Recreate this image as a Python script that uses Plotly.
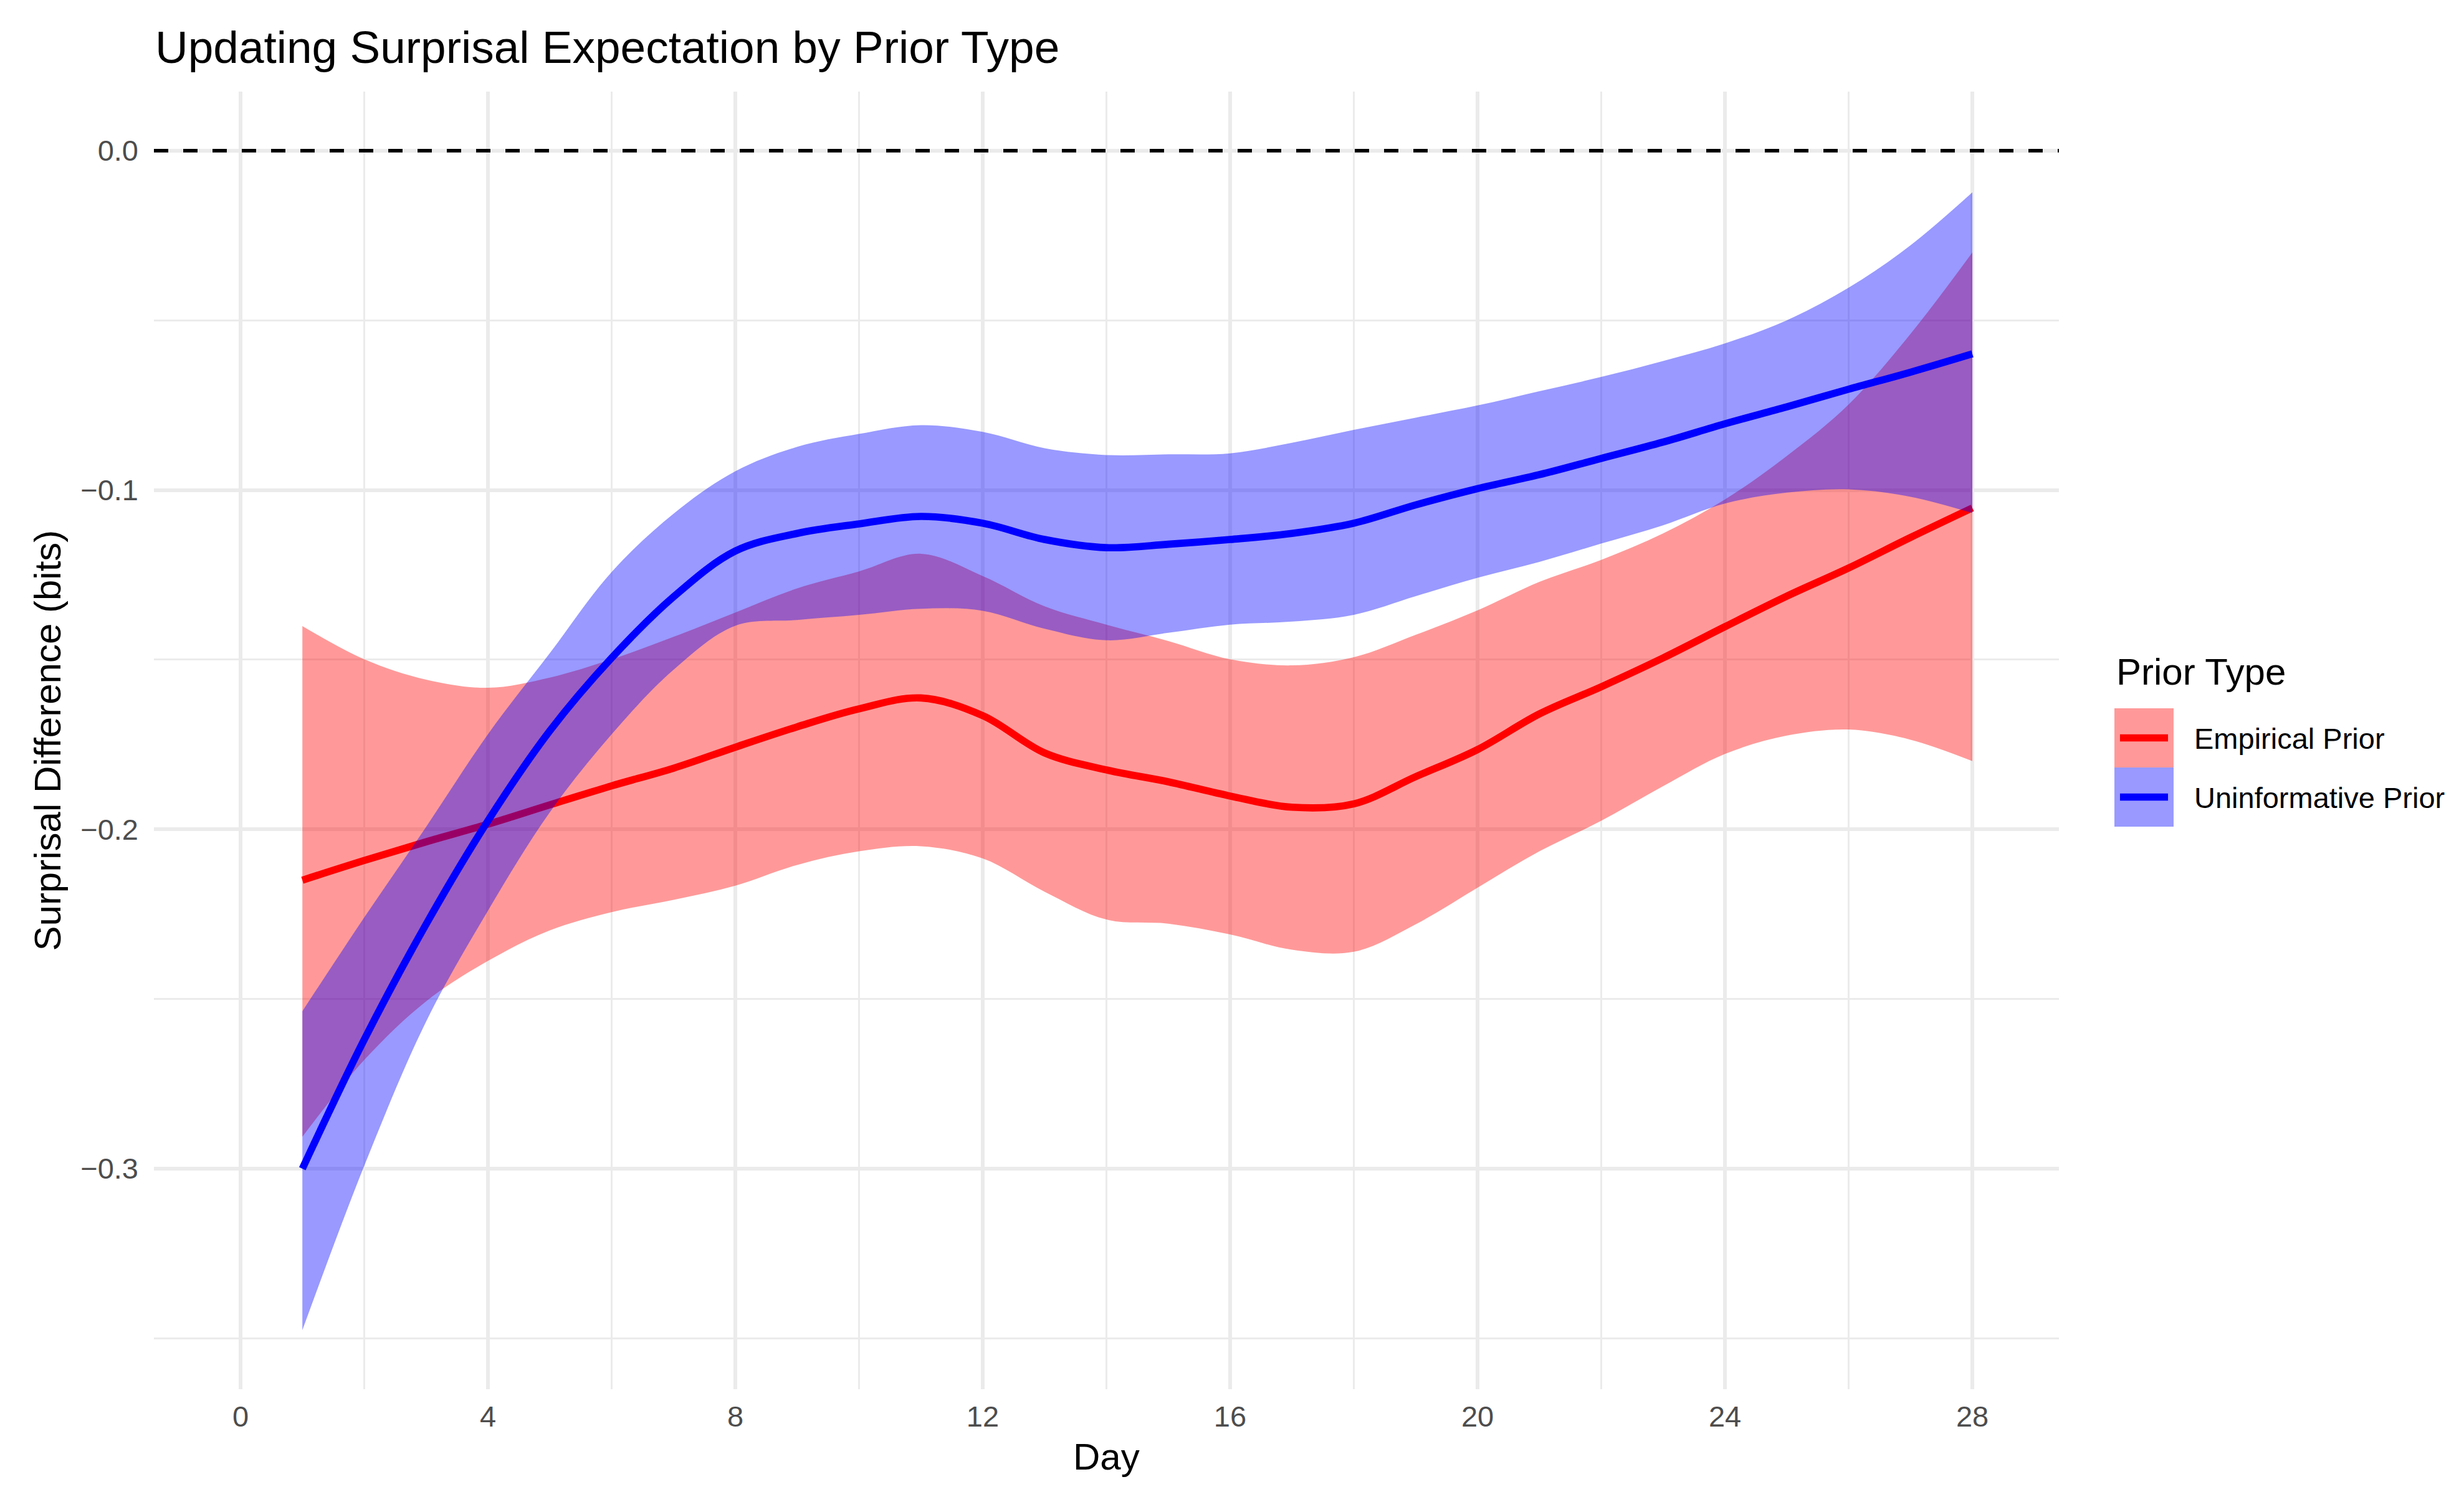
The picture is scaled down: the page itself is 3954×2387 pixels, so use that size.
import plotly.graph_objects as go

# ---------------- data ----------------
days = list(range(1, 29))

emp_mean = [-0.2150, -0.2092, -0.2037, -0.1985, -0.1928, -0.1872, -0.1820, -0.1758,
            -0.1698, -0.1645, -0.1613, -0.1665, -0.1775, -0.1825, -0.1860, -0.1902,
            -0.1935, -0.1925, -0.1845, -0.1765, -0.1660, -0.1580, -0.1495, -0.1403,
            -0.1313, -0.1230, -0.1140, -0.1053]
emp_upper = [-0.1401, -0.1499, -0.1559, -0.1583, -0.1553, -0.1499, -0.1433, -0.1361,
             -0.1290, -0.1240, -0.1188, -0.1254, -0.1343, -0.1397, -0.1445, -0.1499,
             -0.1517, -0.1493, -0.1427, -0.1355, -0.1271, -0.1206, -0.1128, -0.1028,
             -0.0900, -0.0748, -0.0540, -0.0300]
emp_lower = [-0.2906, -0.2680, -0.2507, -0.2388, -0.2298, -0.2244, -0.2208, -0.2166,
             -0.2105, -0.2065, -0.2050, -0.2086, -0.2184, -0.2266, -0.2278, -0.2310,
             -0.2355, -0.2361, -0.2280, -0.2172, -0.2065, -0.1975, -0.1873, -0.1778,
             -0.1724, -0.1706, -0.1736, -0.1799]

uni_mean = [-0.3000, -0.2620, -0.2280, -0.1975, -0.1710, -0.1495, -0.1315, -0.1180,
            -0.1128, -0.1100, -0.1078, -0.1098, -0.1146, -0.1170, -0.1160, -0.1146,
            -0.1128, -0.1098, -0.1044, -0.0996, -0.0955, -0.0907, -0.0859, -0.0805,
            -0.0755, -0.0703, -0.0653, -0.0599]
uni_upper = [-0.2536, -0.2260, -0.1993, -0.1720, -0.1481, -0.1242, -0.1070, -0.0945,
             -0.0873, -0.0835, -0.0809, -0.0829, -0.0877, -0.0897, -0.0895, -0.0892,
             -0.0861, -0.0823, -0.0787, -0.0751, -0.0709, -0.0667, -0.0620, -0.0568,
             -0.0500, -0.0404, -0.0279, -0.0123]
uni_lower = [-0.3476, -0.2992, -0.2567, -0.2240, -0.1950, -0.1720, -0.1530, -0.1400,
             -0.1383, -0.1368, -0.1350, -0.1356, -0.1409, -0.1443, -0.1421, -0.1397,
             -0.1388, -0.1368, -0.1313, -0.1259, -0.1212, -0.1158, -0.1104, -0.1040,
             -0.1008, -0.0998, -0.1020, -0.1068]

series_names = ["Empirical Prior", "Uninformative Prior"]
x_ticks = [0, 4, 8, 12, 16, 20, 24, 28]
y_ticks = [0.0, -0.1, -0.2, -0.3]

# ---------------- layout geometry ----------------
W, H = 3954, 2387
ML, MR, MT, MB = 247, 650, 147, 157
PW = W - ML - MR
PH = H - MT - MB


def px_x(x):
    return (x - ML) / PW


def px_y(y):
    return (H - MB - y) / PH


FONT = "Liberation Sans, Arial, Helvetica, sans-serif"
RED_FILL = "rgba(255,0,0,0.4)"
BLUE_FILL = "rgba(0,0,255,0.4)"

fig = go.Figure()


def add_smooth(lower, upper, mean, fill, color, name):
    fig.add_trace(go.Scatter(x=days, y=lower, mode="lines",
                             line=dict(width=0, shape="spline", color=fill),
                             hoverinfo="skip", showlegend=False))
    fig.add_trace(go.Scatter(x=days, y=upper, mode="lines",
                             line=dict(width=0, shape="spline", color=fill),
                             fill="tonexty", fillcolor=fill,
                             hoverinfo="skip", showlegend=False))
    fig.add_trace(go.Scatter(x=days, y=mean, mode="lines", name=name,
                             line=dict(color=color, width=11.6, shape="spline"),
                             showlegend=False))


add_smooth(emp_lower, emp_upper, emp_mean, RED_FILL, "#FF0000", series_names[0])
add_smooth(uni_lower, uni_upper, uni_mean, BLUE_FILL, "#0000FF", series_names[1])

fig.add_hline(y=0, line=dict(color="black", width=5.8, dash="23px,24px"))

grid = "#EBEBEB"
fig.update_layout(
    width=W, height=H,
    margin=dict(l=ML, r=MR, t=MT, b=MB, pad=0),
    paper_bgcolor="white", plot_bgcolor="white",
    font=dict(family=FONT, color="black"),
    showlegend=False,
    xaxis=dict(range=[-1.4, 29.4], tickmode="array", tickvals=x_ticks,
               ticktext=[str(v) for v in x_ticks],
               showgrid=True, gridcolor=grid, gridwidth=5.8,
               zeroline=False, showline=False, ticks="",
               ticklabelstandoff=12,
               tickfont=dict(size=47, color="#4D4D4D", family=FONT),
               minor=dict(tickmode="linear", tick0=0, dtick=2, showgrid=True,
                          gridcolor=grid, gridwidth=2.9)),
    yaxis=dict(range=[-0.365, 0.0174], tickmode="array", tickvals=y_ticks,
               ticktext=["0.0", "\u22120.1", "\u22120.2", "\u22120.3"],
               showgrid=True, gridcolor=grid, gridwidth=5.8,
               zeroline=False, showline=False, ticks="",
               ticklabelstandoff=24,
               tickfont=dict(size=47, color="#4D4D4D", family=FONT),
               minor=dict(tickmode="linear", tick0=0, dtick=0.05, showgrid=True,
                          gridcolor=grid, gridwidth=2.9)),
)

annotations = [
    dict(text="Updating Surprisal Expectation by Prior Type", xref="paper", yref="paper",
         x=px_x(247), y=px_y(75), xanchor="left", yanchor="middle", showarrow=False,
         font=dict(size=73, color="black", family=FONT)),
    dict(text="Day", xref="paper", yref="paper", x=0.5, y=px_y(2338),
         xanchor="center", yanchor="middle", showarrow=False,
         font=dict(size=60, color="black", family=FONT)),
    dict(text="Surprisal Difference (bits)", xref="paper", yref="paper",
         x=px_x(76), y=0.5, xanchor="center", yanchor="middle", textangle=-90,
         showarrow=False, font=dict(size=60, color="black", family=FONT)),
    dict(text="Prior Type", xref="paper", yref="paper", x=px_x(3394), y=px_y(1078),
         xanchor="left", yanchor="middle", showarrow=False,
         font=dict(size=60, color="black", family=FONT)),
    dict(text=series_names[0], xref="paper", yref="paper", x=px_x(3519), y=px_y(1185),
         xanchor="left", yanchor="middle", showarrow=False,
         font=dict(size=47, color="black", family=FONT)),
    dict(text=series_names[1], xref="paper", yref="paper", x=px_x(3519), y=px_y(1280),
         xanchor="left", yanchor="middle", showarrow=False,
         font=dict(size=47, color="black", family=FONT)),
]
fig.update_layout(annotations=annotations)

# manual legend keys (ribbon box + line)
keys = [(1137, 1232, RED_FILL, "#FF0000"), (1232, 1327, BLUE_FILL, "#0000FF")]
for y0, y1, fillc, linec in keys:
    fig.add_shape(type="rect", xref="paper", yref="paper",
                  x0=px_x(3393), x1=px_x(3488), y0=px_y(y1), y1=px_y(y0),
                  fillcolor=fillc, line=dict(width=0), layer="above")
    ym = (y0 + y1) / 2
    fig.add_shape(type="line", xref="paper", yref="paper",
                  x0=px_x(3402), x1=px_x(3479), y0=px_y(ym), y1=px_y(ym),
                  line=dict(color=linec, width=11.6), layer="above")

fig.write_html("out.html",
               config={"displayModeBar": False},
               post_script="document.body.style.margin='0px';document.body.style.overflow='hidden';")
